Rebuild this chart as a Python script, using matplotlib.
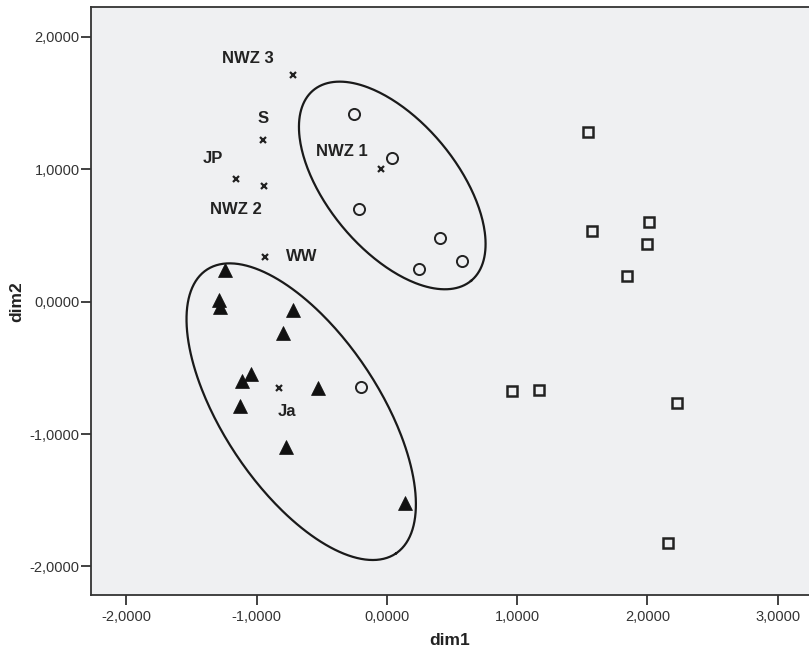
import matplotlib
matplotlib.use('Agg')
import matplotlib.pyplot as plt
import numpy as np
from matplotlib.ticker import FuncFormatter

# cluster 1 (circles)
circ_x = [-0.253, 0.036, -0.213, 0.407, 0.576, 0.243, -0.202]
circ_y = [1.418, 1.083, 0.698, 0.479, 0.310, 0.249, -0.642]

# cluster 2 (triangles)
tri_x = [-1.241, -1.287, -1.280, -0.719, -0.796, -1.046, -1.115, -0.527, -1.128, -0.775, 0.138]
tri_y = [0.240, 0.013, -0.042, -0.063, -0.234, -0.549, -0.599, -0.654, -0.788, -1.100, -1.519]

# cluster 3 (squares)
sq_x = [1.540, 1.571, 2.013, 1.993, 1.842, 0.959, 1.167, 2.228, 2.154]
sq_y = [1.282, 0.534, 0.602, 0.436, 0.192, -0.672, -0.667, -0.763, -1.826]

# labelled reference points (crosses)
ref_names = ['NWZ 3', 'S', 'JP', 'NWZ 2', 'WW', 'NWZ 1', 'Ja']
ref_x = [-0.724, -0.954, -1.159, -0.946, -0.934, -0.046, -0.831]
ref_y = [1.713, 1.224, 0.929, 0.877, 0.340, 1.000, -0.654]
# label offsets in points
ref_off = [(-32.4, 12.0), (0.4, 15.4), (-16.8, 14.2), (-20.2, -17.5),
           (26.2, 0.0), (-27.9, 12.7), (5.8, -16.8)]

ticks = [-2, -1, 0, 1, 2, 3]

plt.rcParams['font.family'] = ['Liberation Sans', 'DejaVu Sans']

fig = plt.figure(figsize=(8.09, 6.51), dpi=100)
ax = fig.add_axes([0.1121, 0.086, 0.8879, 0.9028])
ax.set_facecolor('#eff0f2')

ax.set_xlim(-2.274, 3.24)
ax.set_ylim(-2.216, 2.224)

ax.plot(circ_x, circ_y, 'o', ms=8, mfc='none', mec='#222222', mew=1.4)
ax.plot(tri_x, tri_y, '^', ms=9.5, mfc='#111111', mec='#111111', mew=0.5)
ax.plot(sq_x, sq_y, 's', ms=7.8, mfc='none', mec='#222222', mew=1.8)
ax.plot(ref_x, ref_y, 'x', ms=5, mec='#222222', mew=1.6)

for name, x, y, off in zip(ref_names, ref_x, ref_y, ref_off):
    ax.annotate(name, (x, y), xytext=off, textcoords='offset points',
                ha='center', va='center', fontsize=12, fontweight='bold',
                color='#222222')

# hand-drawn cluster ellipses (pixel-space shape, converted to data units)
sx, sy = 130.3, 132.35
t = np.linspace(0, 2 * np.pi, 300)
for cx, cy, a, b, th in [(0.041, 0.878, 123.7, 64.7, 50.35),
                         (-0.658, -0.831, 170.5, 78.0, 56.3)]:
    r = np.radians(th)
    px = a * np.cos(t) * np.cos(r) - b * np.sin(t) * np.sin(r)
    py = a * np.cos(t) * np.sin(r) + b * np.sin(t) * np.cos(r)
    ax.plot(cx + px / sx, cy - py / sy, color='#1a1a1a', lw=1.6)

ax.set_xticks(ticks)
ax.set_yticks(ticks[:-1])
fmt = FuncFormatter(lambda v, p: ('%.4f' % v).replace('.', ','))
ax.xaxis.set_major_formatter(fmt)
ax.yaxis.set_major_formatter(fmt)
ax.tick_params(axis='both', direction='out', length=7, width=1.3,
               color='#333333', labelsize=10.5, labelcolor='#333333')
ax.tick_params(axis='x', pad=4)
ax.tick_params(axis='y', pad=1)

for side in ['left', 'bottom', 'top']:
    ax.spines[side].set_color('#333333')
    ax.spines[side].set_linewidth(1.3)
ax.spines['right'].set_visible(False)

ax.set_xlabel('dim1', fontsize=12.5, fontweight='bold', color='#222222', labelpad=6)
ax.set_ylabel('dim2', fontsize=12.5, fontweight='bold', color='#222222', labelpad=4)

fig.savefig('out.png', dpi=100)
